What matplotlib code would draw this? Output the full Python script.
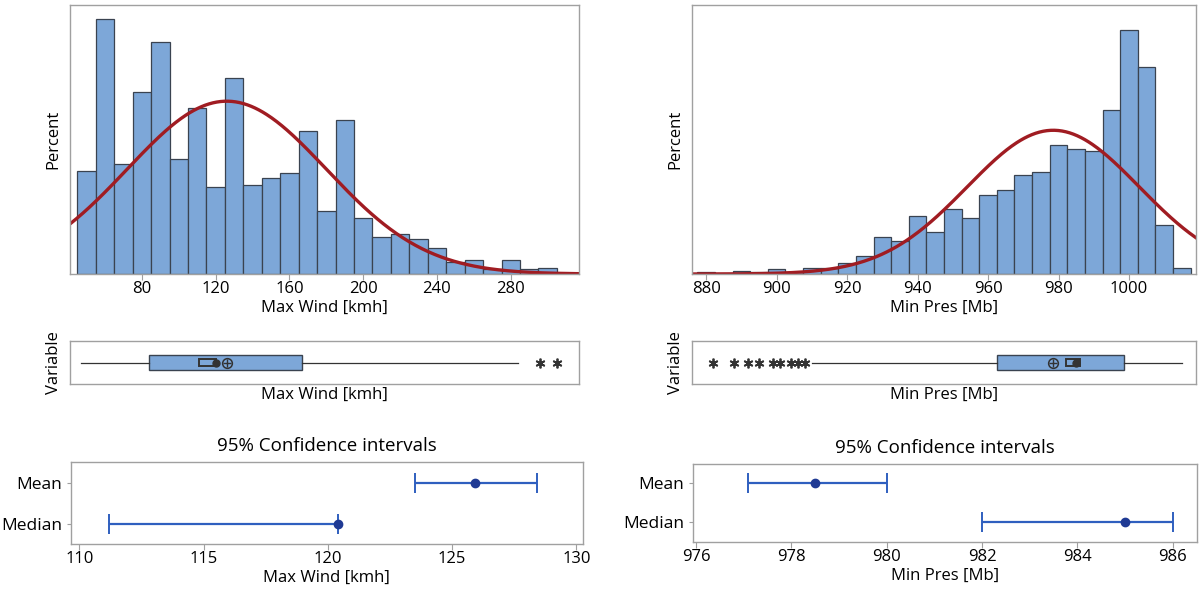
import numpy as np
import matplotlib
matplotlib.use("Agg")
import matplotlib.pyplot as plt
from matplotlib.patches import Rectangle

plt.rcParams['font.family'] = ['Open Sans', 'DejaVu Sans']

# ---- Max Wind data (histogram, percent per 10 kmh bin)
wind_bins = [50, 60, 70, 80, 90, 100, 110, 120, 130, 140, 150, 160, 170, 180, 190,
             200, 210, 220, 230, 240, 250, 260, 270, 280, 290, 300]
wind_pct = [4.4, 10.9, 4.7, 7.8, 9.9, 4.9, 7.1, 3.7, 8.4, 3.8, 4.1, 4.3, 6.1, 2.7, 6.6,
            2.4, 1.6, 1.7, 1.5, 1.1, 0.5, 0.6, 0.2, 0.6, 0.2, 0.25]
wind_mean = 126.0
wind_sd = 54.0
wind_box = dict(whislo=47, q1=84, q3=167, whishi=284, fliers=[296, 305])
wind_ci_mean = [123.5, 125.9, 128.4]   # low, estimate, high
wind_ci_median = [111.2, 120.4, 120.4]

# ---- Min Pres data (histogram, percent per 5 Mb bin)
pres_bins = [880, 885, 890, 895, 900, 905, 910, 915, 920, 925, 930, 935, 940, 945,
             950, 955, 960, 965, 970, 975, 980, 985, 990, 995, 1000, 1005, 1010, 1015]
pres_pct = [0.1, 0.0, 0.15, 0.1, 0.3, 0.1, 0.35, 0.35, 0.65, 1.0, 2.1, 1.9, 3.3, 2.4,
            3.7, 3.2, 4.5, 4.75, 5.65, 5.8, 7.35, 7.1, 7.0, 9.35, 13.9, 11.8, 2.8, 0.35]
pres_mean = 978.5
pres_sd = 24.4
pres_box = dict(whislo=910, q1=962.5, q3=998.5, whishi=1015,
                fliers=[882, 888, 892, 895, 899, 901, 904, 906, 908])
pres_ci_mean = [977.1, 978.5, 980.0]
pres_ci_median = [982.0, 985.0, 986.0]

ci_labels = ['Mean', 'Median']

BAR = '#7DA7D8'
EDGE = '#3A4350'
CURVE = '#A01C22'
FRAME = '#A0A0A0'
CI_LINE = '#2F5FBF'
CI_DOT = '#1F3A94'
FS = 12

fig = plt.figure(figsize=(12.04, 5.93), dpi=100)


def style_frame(ax):
    for s in ax.spines.values():
        s.set_color(FRAME)
        s.set_linewidth(1.0)


def draw_column(x0, w, bins, pct, bw, mean, sd, xlim, xticks, ylim_top, box, ci_mean, ci_med,
                ci_xlim, ci_xticks, xlabel, ci_rect):
    # histogram
    ax = fig.add_axes([x0 / 1204, 1 - 274 / 593, w / 1204, 269 / 593])
    ax.bar(bins, pct, width=bw, color=BAR, edgecolor=EDGE, linewidth=0.9)
    xs = np.linspace(xlim[0], xlim[1], 400)
    ys = 100 * bw / (sd * np.sqrt(2 * np.pi)) * np.exp(-0.5 * ((xs - mean) / sd) ** 2)
    ax.plot(xs, ys, color=CURVE, lw=2.4)
    ax.set_xlim(xlim)
    ax.set_ylim(0, ylim_top)
    ax.set_xticks(xticks)
    ax.set_yticks([])
    ax.set_ylabel('Percent', fontsize=FS, labelpad=6)
    ax.set_xlabel(xlabel, fontsize=FS, labelpad=2)
    ax.tick_params(axis='x', labelsize=FS, length=4, color=FRAME, pad=1)
    style_frame(ax)

    # boxplot
    bx = fig.add_axes([x0 / 1204, 1 - 384 / 593, w / 1204, 43 / 593])
    stats = [dict(med=ci_med[1], mean=ci_mean[1], **box)]
    bx.bxp(stats, positions=[0.5], widths=0.34, orientation='horizontal', patch_artist=True,
           showcaps=False, showmeans=False,
           boxprops=dict(facecolor=BAR, edgecolor=EDGE, linewidth=1.0),
           whiskerprops=dict(color='#333333', linewidth=0.9),
           medianprops=dict(linewidth=0),
           flierprops=dict(marker=(6, 2, 0), markersize=7, markeredgewidth=1.3,
                           markeredgecolor='#333333', linestyle='none'))
    bx.add_patch(Rectangle((ci_med[0], 0.42), ci_med[2] - ci_med[0], 0.16,
                           facecolor=BAR, edgecolor='#333333', linewidth=1.4, zorder=4))
    bx.plot([ci_med[1]], [0.5], 'o', color='#333333', markersize=5, zorder=5)
    bx.plot([ci_mean[1]], [0.5], 'o', mfc='none', mec='#333333', markersize=7, mew=1.1, zorder=5)
    bx.plot([ci_mean[1]], [0.5], '+', color='#333333', markersize=6, mew=1.0, zorder=5)
    bx.set_xlim(xlim)
    bx.set_ylim(0, 1)
    bx.set_xticks([])
    bx.set_yticks([])
    bx.set_ylabel('Variable', fontsize=FS, labelpad=6)
    bx.set_xlabel(xlabel, fontsize=FS, labelpad=2)
    style_frame(bx)

    # confidence intervals
    cx = fig.add_axes(ci_rect)
    for i, (lo, est, hi) in enumerate([ci_mean, ci_med]):
        cx.errorbar([est], [i], xerr=[[est - lo], [hi - est]], fmt='o', color=CI_LINE,
                    ecolor=CI_LINE, elinewidth=1.6, capsize=7, capthick=1.4,
                    markersize=6, markerfacecolor=CI_DOT, markeredgecolor=CI_DOT)
    cx.set_ylim(1.5, -0.5)
    cx.set_yticks([0, 1])
    cx.set_yticklabels(ci_labels, fontsize=12.5)
    cx.set_xlim(ci_xlim)
    cx.set_xticks(ci_xticks)
    cx.tick_params(axis='x', labelsize=FS, length=4, color=FRAME, pad=1)
    cx.tick_params(axis='y', length=3, color=FRAME, pad=3)
    cx.set_xlabel(xlabel, fontsize=FS, labelpad=2)
    cx.set_title('95% Confidence intervals', fontsize=13.5, pad=8)
    style_frame(cx)


draw_column(70, 509, wind_bins, wind_pct, 10, wind_mean, wind_sd, (41, 317),
            [80, 120, 160, 200, 240, 280], 11.5, wind_box, wind_ci_mean, wind_ci_median,
            (109.65, 130.25), [110, 115, 120, 125, 130], 'Max Wind [kmh]',
            [70.7 / 1204, 1 - 544.3 / 593, 512 / 1204, 82 / 593])

draw_column(692, 504, pres_bins, pres_pct, 5, pres_mean, pres_sd, (876, 1019),
            [880, 900, 920, 940, 960, 980, 1000], 15.3, pres_box, pres_ci_mean, pres_ci_median,
            (975.93, 986.5), [976, 978, 980, 982, 984, 986], 'Min Pres [Mb]',
            [692.7 / 1204, 1 - 541.7 / 593, 504 / 1204, 77.7 / 593])

fig.savefig('out.png', dpi=100)
